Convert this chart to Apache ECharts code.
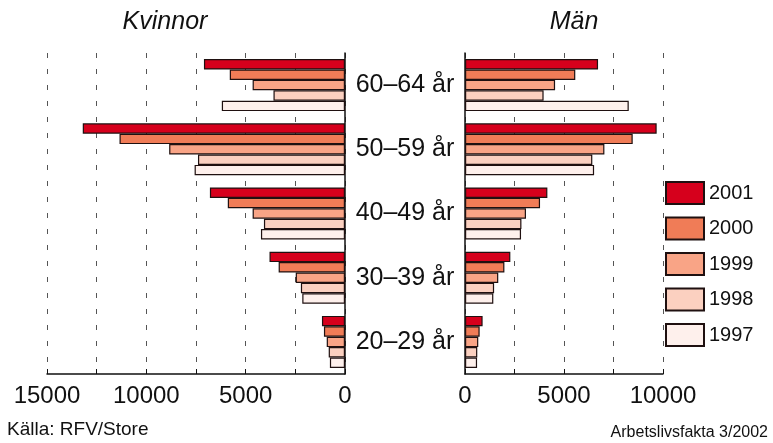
<!DOCTYPE html>
<html>
<head>
<meta charset="utf-8">
<script src="https://cdn.jsdelivr.net/npm/echarts@6/dist/echarts.min.js"></script>
<style>
html,body{margin:0;padding:0;background:#fff;}
#chart{width:773px;height:443px;}
</style>
</head>
<body>
<div id="chart"></div>
<script>
// Categories (top to bottom)
const categories = ['60–64 år', '50–59 år', '40–49 år', '30–39 år', '20–29 år'];
const years = ['2001', '2000', '1999', '1998', '1997'];
const yearColors = ['#d6001c', '#f07c57', '#f9a486', '#fbd0c0', '#fef0ec'];

// Kvinnor (women) values per year
const kvinnor2001 = [7100, 13200, 6800, 3800, 1160];
const kvinnor2000 = [5800, 11350, 5900, 3340, 1060];
const kvinnor1999 = [4650, 8850, 4650, 2480, 920];
const kvinnor1998 = [3600, 7400, 4080, 2220, 820];
const kvinnor1997 = [6200, 7570, 4230, 2150, 760];

// Män (men) values per year
const man2001 = [6720, 9680, 4160, 2290, 890];
const man2000 = [5570, 8470, 3790, 1990, 740];
const man1999 = [4550, 7040, 3080, 1680, 670];
const man1998 = [3970, 6430, 2850, 1470, 620];
const man1997 = [8270, 6520, 2830, 1430, 610];

const kvinnorSeries = [kvinnor2001, kvinnor2000, kvinnor1999, kvinnor1998, kvinnor1997];
const manSeries = [man2001, man2000, man1999, man1998, man1997];

const FONT = "'Liberation Sans', Arial, Helvetica, sans-serif";

const chart = echarts.init(document.getElementById('chart'));

function xAxisCommon(max, inverse, gridIndex) {
  return {
    type: 'value', gridIndex: gridIndex, min: 0, max: max, interval: 2500, inverse: inverse,
    axisLine: { show: true, lineStyle: { color: '#111', width: 1.5 } },
    axisTick: { show: true, inside: true, length: 5, lineStyle: { color: '#111', width: 1 } },
    axisLabel: {
      margin: 10, color: '#111', fontSize: 24, fontFamily: FONT,
      formatter: v => (v % 5000 === 0 ? String(v) : '')
    },
    splitLine: { show: true, lineStyle: { color: '#555', width: 1, type: [5, 11] } }
  };
}

function makeSeries(arrs, idx) {
  return arrs.map((data, i) => ({
    name: years[i], type: 'bar', xAxisIndex: idx, yAxisIndex: idx,
    data: data, barGap: '0%', barCategoryGap: '19%',
    itemStyle: { color: yearColors[i], borderColor: '#1f1010', borderWidth: 1.2 },
    emphasis: { disabled: true }, animation: false
  }));
}

chart.setOption({
  animation: false,
  backgroundColor: '#fff',
  title: [
    { text: 'Kvinnor', left: 160, top: 5, textAlign: 'center',
      textStyle: { fontSize: 25, fontStyle: 'italic', fontWeight: 'normal', color: '#111', fontFamily: FONT } },
    { text: 'Män', left: 569, top: 5, textAlign: 'center',
      textStyle: { fontSize: 25, fontStyle: 'italic', fontWeight: 'normal', color: '#111', fontFamily: FONT } },
    { text: 'Källa: RFV/Store', left: 2, top: 415,
      textStyle: { fontSize: 19, fontWeight: 'normal', color: '#111', fontFamily: FONT } },
    { text: 'Arbetslivsfakta 3/2002', right: 0, top: 420,
      textStyle: { fontSize: 16, fontWeight: 'normal', color: '#111', fontFamily: FONT } }
  ],
  legend: {
    orient: 'vertical', left: 660, top: 176, itemWidth: 38, itemHeight: 22, itemGap: 11.5,
    icon: 'rect', data: years, selectedMode: false,
    textStyle: { fontSize: 20, color: '#111', fontFamily: FONT, padding: [0, 0, 0, 0] }
  },
  grid: [
    { left: 47, right: 773 - 345, top: 53, bottom: 443 - 374 },
    { left: 465, right: 773 - 663, top: 53, bottom: 443 - 374 }
  ],
  xAxis: [xAxisCommon(15000, true, 0), xAxisCommon(10000, false, 1)],
  yAxis: [
    { type: 'category', gridIndex: 0, data: categories, inverse: true, position: 'right',
      axisLine: { show: true, lineStyle: { color: '#111', width: 1.5 } },
      axisTick: { show: false },
      axisLabel: { show: true, align: 'center', margin: 60, fontSize: 25, color: '#111', fontFamily: FONT } },
    { type: 'category', gridIndex: 1, data: categories, inverse: true, position: 'left',
      axisLine: { show: true, lineStyle: { color: '#111', width: 1.5 } },
      axisTick: { show: false }, axisLabel: { show: false } }
  ],
  series: makeSeries(kvinnorSeries, 0).concat(makeSeries(manSeries, 1))
});
</script>
</body>
</html>
